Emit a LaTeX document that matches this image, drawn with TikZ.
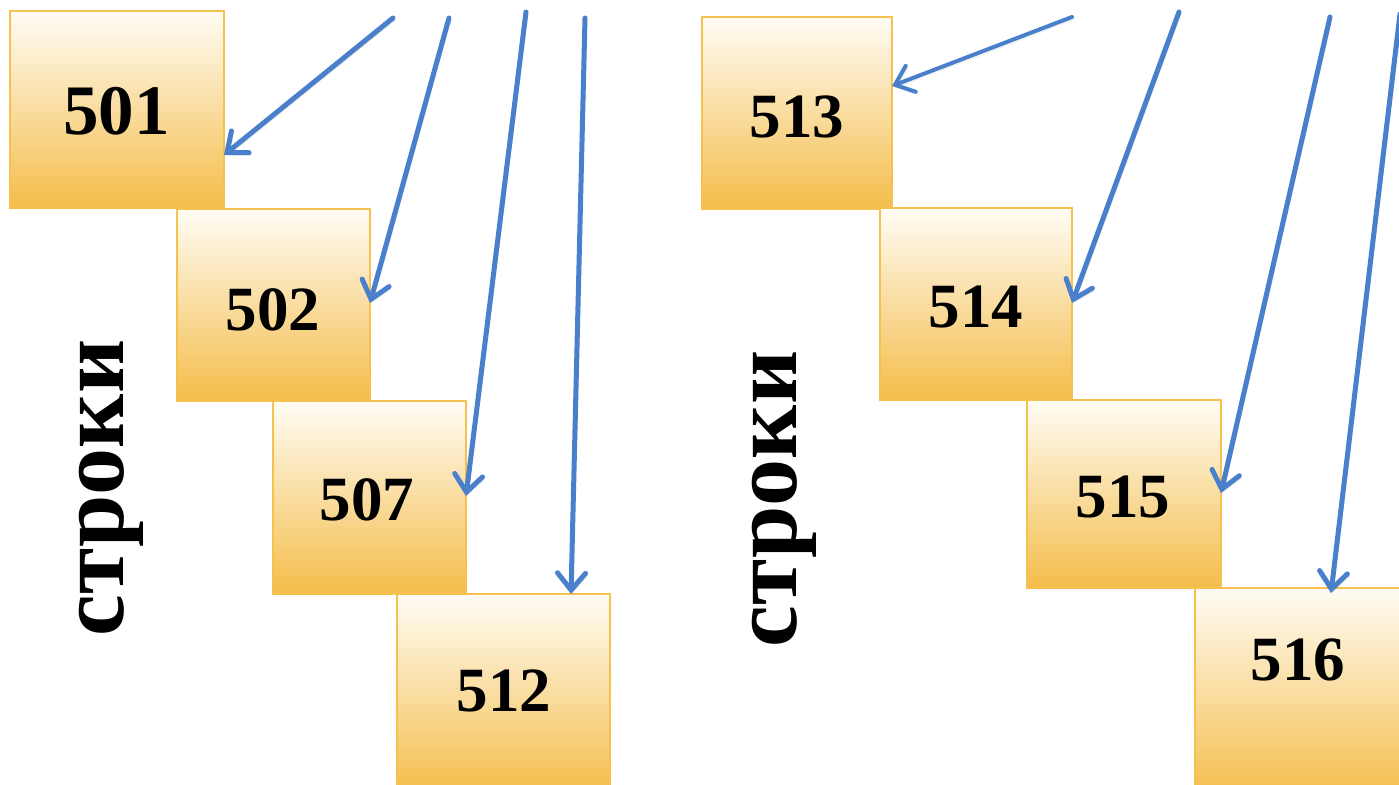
\documentclass[tikz,border=0pt]{standalone}
\usepackage{fontspec}
\setmainfont{Liberation Serif}
\usetikzlibrary{arrows.meta}
\definecolor{boxtop}{HTML}{FFFCF5}
\definecolor{boxbot}{HTML}{F4BD4A}
\definecolor{boxline}{HTML}{F6C24F}
\definecolor{arrblue}{HTML}{4A7FCB}
\tikzset{
 box/.style={draw=boxline, line width=1.5pt, top color=boxtop, bottom color=boxbot, anchor=north west, inner sep=0pt, outer sep=0pt},
 num/.style={font=\fontsize{63}{63}\selectfont\bfseries, inner sep=0pt},
 bignum/.style={font=\fontsize{71}{71}\selectfont\bfseries, inner sep=0pt},
 word/.style={font=\fontsize{94}{94}\selectfont\bfseries, rotate=90, inner sep=0pt},
 arr/.style={draw=arrblue, line width=5pt, line join=round, line cap=round, -{Straight Barb[length=17pt,width=28pt,line cap=round]},
   preaction={draw=black!50, opacity=0.25, transform canvas={shift={(2pt,-2.5pt)}}}}
}
\begin{document}
\begin{tikzpicture}[x=1pt,y=-1pt]
\path[use as bounding box, clip] (0,0) rectangle (1399,784);
% left group
\node[box, minimum width=214pt, minimum height=197pt] (b501) at (10,11) {};
\node[box, minimum width=193pt, minimum height=192pt] (b502) at (177,209) {};
\node[box, minimum width=193pt, minimum height=193pt] (b507) at (273,401) {};
\node[box, minimum width=213pt, minimum height=200pt] (b512) at (397,594) {};
% right group
\node[box, minimum width=190pt, minimum height=192pt] (b513) at (702,17) {};
\node[box, minimum width=192pt, minimum height=192pt] (b514) at (880,208) {};
\node[box, minimum width=194pt, minimum height=188pt] (b515) at (1027,400) {};
\node[box, minimum width=214pt, minimum height=210pt] (b516) at (1195,588) {};
% labels
\node[bignum] (l501) at (116.5,111.5) {501};
\node[num] (l502) at (273,310) {502};
\node[num] (l507) at (367,500) {507};
\node[num] (l512) at (504,691) {512};
\node[num] (l513) at (797,117) {513};
\node[num] (l514) at (976,307) {514};
\node[num] (l515) at (1123,497) {515};
\node[num] (l516) at (1298,660) {516};
\node[word] (w1) at (111,488) {строки};
\node[word] (w2) at (784,499) {строки};
% arrow starts
\coordinate (s1) at (393,18);
\coordinate (s2) at (449,18);
\coordinate (s3) at (526,12);
\coordinate (s4) at (585,18);
\coordinate (s5) at (1072,17);
\coordinate (s6) at (1179,12);
\coordinate (s7) at (1330,17);
\coordinate (s8) at (1400,14);
% arrows
\draw[arr] (s1) -- (b501.east |- 0,155);
\draw[arr] (s2) -- (b502.east |- 0,303);
\draw[arr] (s3) -- (b507.east |- 0,496);
\draw[arr] (s4) -- (b512.north -| 571,0);
\draw[arr, line width=4pt] (s5) -- (b513.east |- 0,86);
\draw[arr] (s6) -- (b514.east |- 0,303);
\draw[arr] (s7) -- (b515.east |- 0,493);
\draw[arr] (s8) -- (1331,593);
\end{tikzpicture}
\end{document}
